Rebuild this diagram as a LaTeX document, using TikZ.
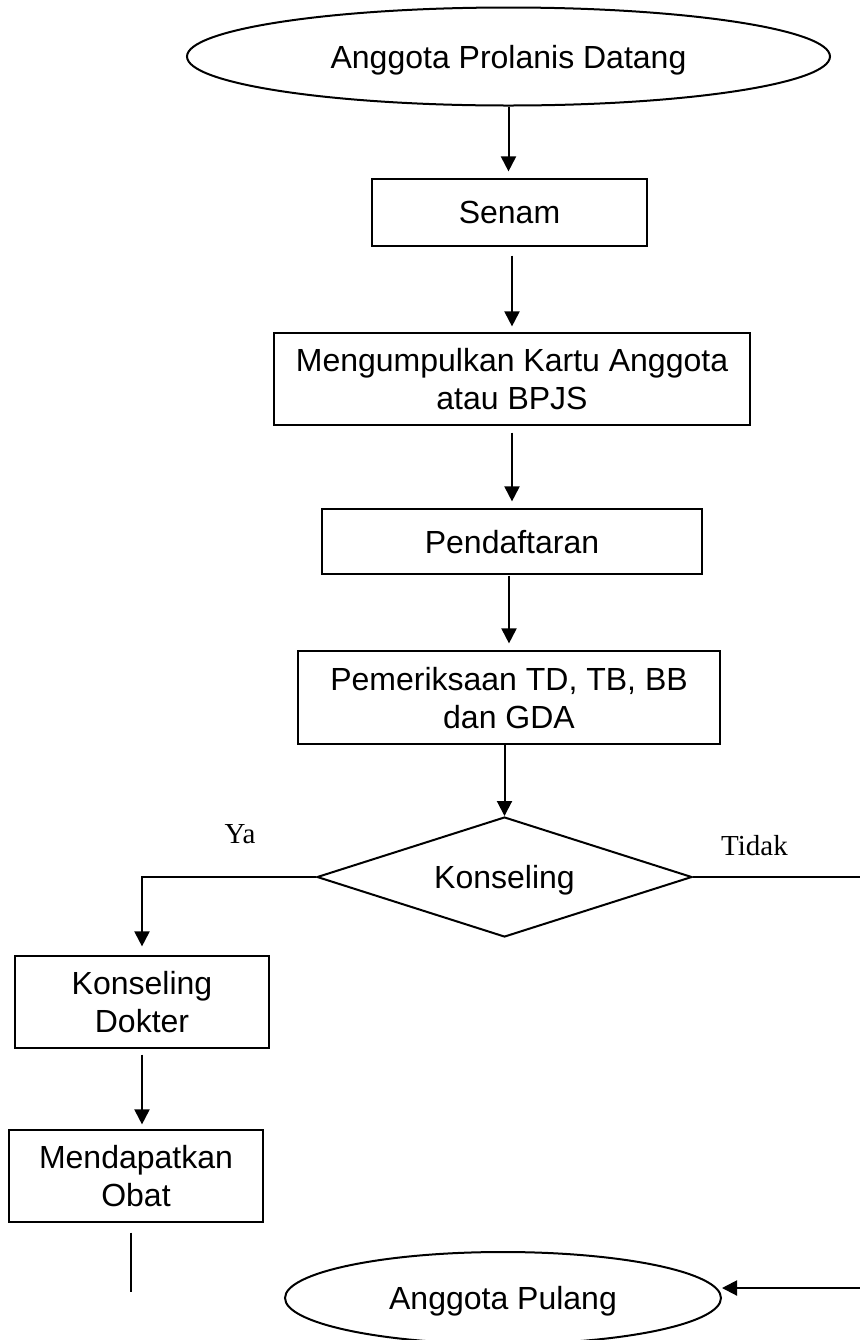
\documentclass[tikz,border=0pt]{standalone}
\usepackage{fontspec}
\setmainfont{Liberation Sans}
\newfontfamily\seriffont{Liberation Serif}
\usetikzlibrary{shapes.geometric,arrows.meta}

\tikzset{
  stepbox/.style={draw, line width=0.6pt, rectangle, inner sep=0pt, align=center,
                  text depth=0pt, font=\fontsize{16}{19}\selectfont},
  terminal/.style={draw, line width=1pt, ellipse, inner sep=0pt, text depth=0pt,
                   font=\fontsize{16}{19}\selectfont},
  decision/.style={draw, line width=1pt, diamond, aspect=3.125, inner sep=0pt,
                   text depth=0pt, font=\fontsize{16}{19}\selectfont},
  flow/.style={line width=1pt},
  arr/.style={flow, -{Triangle[width=7.5pt,length=7.5pt]}},
  answer/.style={font=\seriffont\fontsize{14.5}{17}\selectfont, inner sep=0pt, anchor=base}
}

\begin{document}
\begin{tikzpicture}[x=0.5pt,y=-0.5pt]
  \useasboundingbox (0,0) rectangle (860,1340);

  % start and end
  \node[terminal, minimum width=321.5pt, minimum height=49pt] (datang) at (508.5,56.5) {Anggota Prolanis Datang};
  \node[terminal, minimum width=218pt, minimum height=46pt] (pulang) at (503,1298) {Anggota Pulang};

  % process steps
  \node[stepbox, minimum width=137.5pt, minimum height=33.5pt] (senam) at (509.5,212.5) {Senam};
  \node[stepbox, minimum width=238pt, minimum height=46pt] (kartu) at (512,379) {Mengumpulkan Kartu Anggota\\atau BPJS};
  \node[stepbox, minimum width=190pt, minimum height=32.5pt] (daftar) at (512,541.5) {Pendaftaran};
  \node[stepbox, minimum width=211pt, minimum height=46.5pt] (periksa) at (509,697.5) {Pemeriksaan TD, TB, BB\\dan GDA};
  \node[decision, minimum width=187.5pt, minimum height=60pt] (konsel) at (504.5,877) {Konseling};
  \node[stepbox, minimum width=127pt, minimum height=46pt] (dokter) at (142,1002) {Konseling\\Dokter};
  \node[stepbox, minimum width=127pt, minimum height=46pt] (obat) at (136,1176) {Mendapatkan\\Obat};

  % branch labels
  \node[answer] (ya) at (240,843) {Ya};
  \node[answer] (tidak) at (754.5,855) {Tidak};

  % free ends of the open connectors
  \coordinate (tidakout) at (860,877);
  \coordinate (pulangin) at (860,1288);
  \coordinate (obatend) at (131,1292);

  % main flow
  \draw[arr, shorten >=3.5pt] (datang.south) -- (datang.south |- senam.north);
  \draw[arr, shorten <=4.5pt, shorten >=3pt] (kartu.north |- senam.south) -- (kartu.north);
  \draw[arr, shorten <=3.5pt, shorten >=3.5pt] (kartu.south) -- (kartu.south |- daftar.north);
  \draw[arr, shorten <=0.5pt, shorten >=3.5pt] (periksa.north |- daftar.south) -- (periksa.north);
  \draw[arr] (konsel.north |- periksa.south) -- (konsel.north);

  % "Ya" branch
  \draw[arr, shorten >=4.5pt] (konsel.west) -- (dokter.north |- konsel.west) -- (dokter.north);
  \draw[arr, shorten <=3pt, shorten >=2.5pt] (dokter.south) -- (dokter.south |- obat.north);
  \draw[flow] ([xshift=-2.5pt,yshift=-5pt]obat.south) -- (obatend);

  % "Tidak" branch
  \draw[flow] (konsel.east) -- (tidakout);
  \draw[arr] (pulangin) -- (pulang.east |- pulangin);
\end{tikzpicture}
\end{document}
